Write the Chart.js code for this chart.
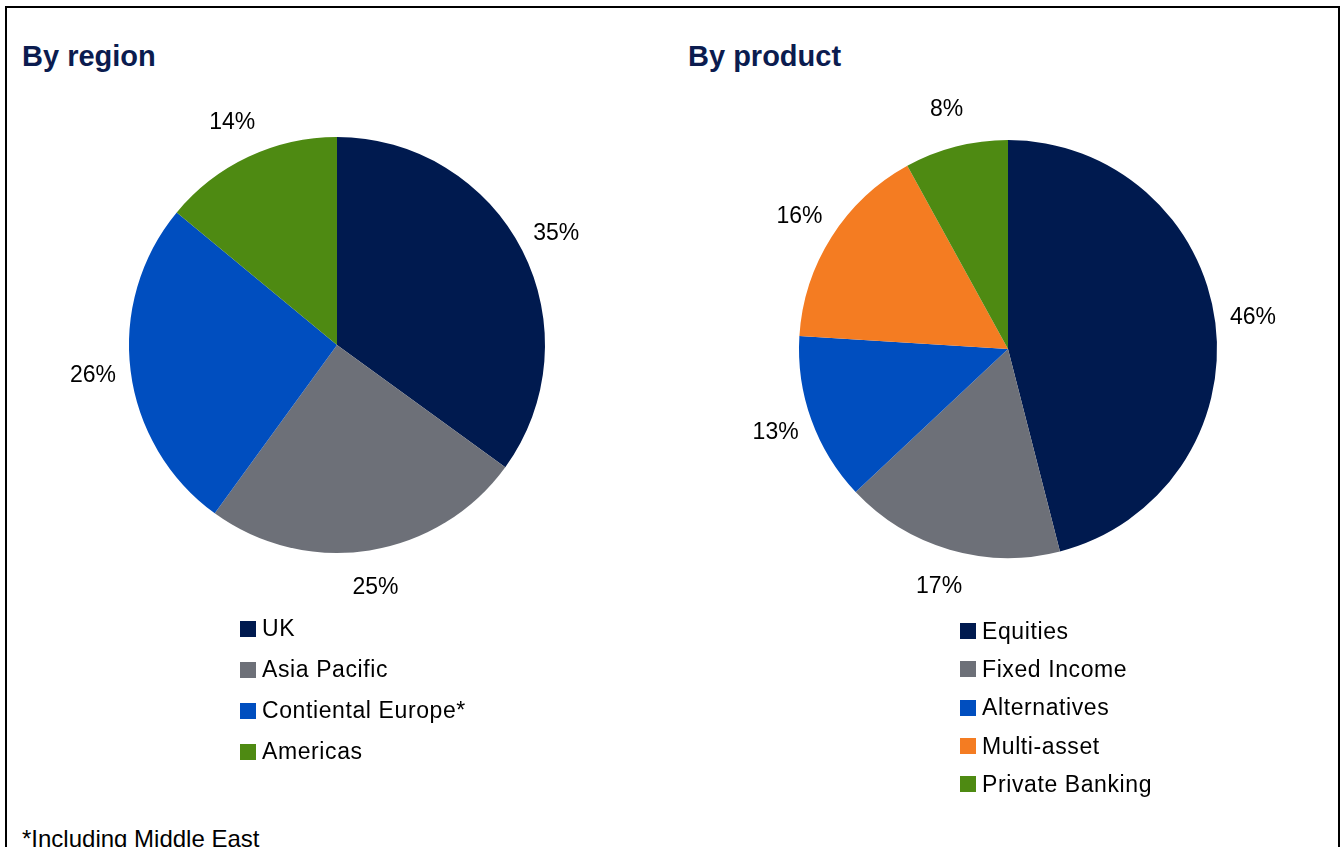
<!DOCTYPE html>
<html>
<head>
<meta charset="utf-8">
<script src="https://cdn.jsdelivr.net/npm/chart.js@4.4.1/dist/chart.umd.min.js"></script>
<style>
  html, body { margin: 0; padding: 0; background: #fff; overflow: hidden; }
  body { width: 1340px; height: 847px; position: relative; font-family: "Liberation Sans", Arial, sans-serif; }
  .frame { position: absolute; left: 5px; top: 6px; width: 1335px; height: 900px; box-sizing: border-box; border: 2px solid #000; }
  .title { position: absolute; font-weight: bold; font-size: 29px; line-height: 32px; color: #0b1c4f; }
  .chart-box { position: absolute; width: 560px; height: 560px; }
  .legend { position: absolute; font-size: 23px; letter-spacing: 0.6px; color: #000; }
  .legend-row { display: flex; align-items: center; white-space: nowrap; }
  .legend-row span.box { width: 16px; height: 16px; margin-right: 6px; flex: none; }
  .note { position: absolute; left: 22px; top: 826px; font-size: 24px; line-height: 26px; color: #000; }
</style>
</head>
<body>
<div class="frame"></div>
<div class="title" style="left:22px; top:40px;">By region</div>
<div class="title" style="left:688px; top:40px;">By product</div>

<div class="chart-box" style="left:57px; top:65px;"><canvas id="region-chart"></canvas></div>
<div class="chart-box" style="left:728px; top:69px;"><canvas id="product-chart"></canvas></div>

<div class="legend" id="region-legend" style="left:240px; top:608px;"></div>
<div class="legend" id="product-legend" style="left:960px; top:612px;"></div>

<div class="note">*Including Middle East</div>

<script>
const regionLabels = ["UK", "Asia Pacific", "Contiental Europe*", "Americas"];
const regionValues = [35, 25, 26, 14];
const regionColours = ["#001a4f", "#6d7078", "#004ebf", "#4e8a12"];

const productLabels = ["Equities", "Fixed Income", "Alternatives", "Multi-asset", "Private Banking"];
const productValues = [46, 17, 13, 16, 8];
const productColours = ["#001a4f", "#6d7078", "#004ebf", "#f47c22", "#4e8a12"];

// percentage labels outside each slice
const outsideLabels = {
    id: 'outsideLabels',
    afterDatasetsDraw(chart) {
        const ctx = chart.ctx;
        const meta = chart.getDatasetMeta(0);
        const values = chart.data.datasets[0].data;
        ctx.save();
        ctx.font = '23px "Liberation Sans", Arial, sans-serif';
        ctx.fillStyle = '#000';
        ctx.textAlign = 'center';
        ctx.textBaseline = 'middle';
        meta.data.forEach((arc, i) => {
            const p = arc.getProps(['x', 'y', 'startAngle', 'endAngle', 'outerRadius'], true);
            const mid = (p.startAngle + p.endAngle) / 2;
            const r = p.outerRadius + 38;
            ctx.fillText(values[i] + '%', p.x + Math.cos(mid) * r, p.y + Math.sin(mid) * r);
        });
        ctx.restore();
    }
};

function makePie(id, labels, values, colours, pad) {
    return new Chart(document.getElementById(id), {
        type: 'pie',
        data: {
            labels: labels,
            datasets: [{
                data: values,
                backgroundColor: colours,
                borderWidth: 0
            }]
        },
        options: {
            responsive: false,
            animation: false,
            layout: { padding: pad },
            plugins: {
                legend: { display: false },
                tooltip: { enabled: false }
            }
        },
        plugins: [outsideLabels]
    });
}

function buildLegend(id, labels, colours, rowHeight) {
    let output = "";
    for (let i = 0; i < labels.length; i++) {
        output += `<div class="legend-row" style="height:${rowHeight}px">
            <span class="box" style="background:${colours[i]}"></span>${labels[i]}</div>`;
    }
    document.getElementById(id).innerHTML = output;
}

const c1 = document.getElementById('region-chart');
c1.width = 560; c1.height = 560;
const c2 = document.getElementById('product-chart');
c2.width = 560; c2.height = 560;

makePie('region-chart', regionLabels, regionValues, regionColours, 72);
makePie('product-chart', productLabels, productValues, productColours, 71);

buildLegend('region-legend', regionLabels, regionColours, 41);
buildLegend('product-legend', productLabels, productColours, 38.3);
</script>
</body>
</html>
